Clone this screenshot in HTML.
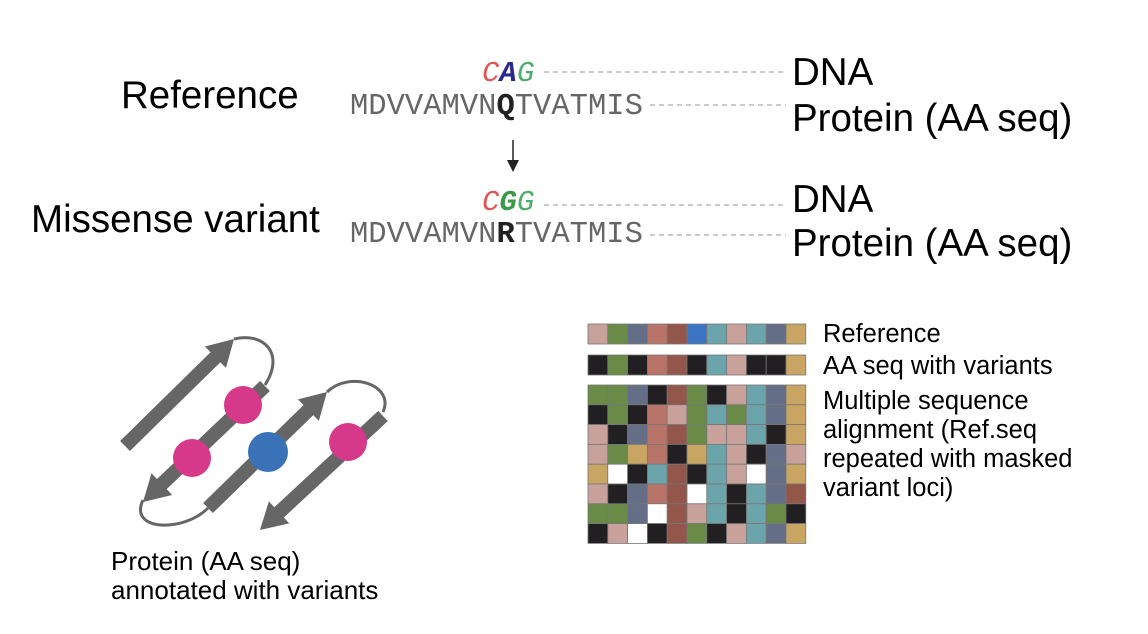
<!DOCTYPE html>
<html><head><meta charset="utf-8">
<style>
body{margin:0;background:#fff;}
svg{display:block;font-family:"Liberation Sans",Arial,sans-serif;}
</style></head>
<body>
<svg id="fig" width="1148" height="634" viewBox="0 0 1148 634">
<text x="121" y="108" font-size="38.5" fill="#000">Reference</text>
<text x="31" y="232" font-size="38.5" fill="#000">Missense variant</text>

<g font-family="Liberation Mono,monospace">
<text x="482" y="81" font-size="29" font-style="italic"><tspan fill="#e05555">C</tspan><tspan fill="#2a2a8a" font-weight="bold">A</tspan><tspan fill="#4cae6a">G</tspan></text>
<text x="350" y="114" font-size="30.5" fill="#666">MDVVAMVN<tspan font-weight="bold" fill="#222">Q</tspan>TVATMIS</text>
<text x="482" y="210" font-size="29" font-style="italic"><tspan fill="#e05555">C</tspan><tspan fill="#3a9a4a" font-weight="bold">G</tspan><tspan fill="#4cae6a">G</tspan></text>
<text x="350" y="242" font-size="30.5" fill="#666">MDVVAMVN<tspan font-weight="bold" fill="#222">R</tspan>TVATMIS</text>
</g>
<g stroke="#aaa" stroke-width="1.2" stroke-dasharray="5,4">
<line x1="544" y1="72" x2="786" y2="72"/>
<line x1="650" y1="105" x2="786" y2="105"/>
<line x1="544" y1="205" x2="786" y2="205"/>
<line x1="650" y1="235" x2="786" y2="235"/>
</g>
<g>
<line x1="513" y1="140" x2="513" y2="162" stroke="#222" stroke-width="1.5"/>
<polygon points="507,160 519,160 513,172" fill="#222"/>
</g>
<g font-size="38.5" fill="#000">
<text x="792" y="85">DNA</text>
<text x="792" y="131">Protein (AA seq)</text>
<text x="792" y="212">DNA</text>
<text x="792" y="256">Protein (AA seq)</text>
</g>

<g id="protein">
<g fill="none" stroke="#666" stroke-width="3">
<path d="M234,339 C262,332 286,352 265,385"/>
<path d="M143,500 C128,532 185,532 208,508"/>
<path d="M327,392 C350,370 395,385 383,412"/>
</g>
<g id="strands" fill="#666"></g>
<g>
<circle cx="243" cy="405" r="19" fill="#d6388a"/>
<circle cx="192" cy="458" r="19" fill="#d6388a"/>
<circle cx="268" cy="452" r="20" fill="#3a72b8"/>
<circle cx="348" cy="442" r="19" fill="#d6388a"/>
</g>
</g>
<text x="111" y="570" font-size="26">Protein (AA seq)</text>
<text x="111" y="599" font-size="26">annotated with variants</text>

<g id="grid"></g>
<g font-size="25.5" fill="#000">
<text x="823" y="342">Reference</text>
<text x="823" y="374">AA seq with variants</text>
<text x="823" y="409">Multiple sequence</text>
<text x="823" y="438">alignment (Ref.seq</text>
<text x="823" y="467">repeated with masked</text>
<text x="823" y="496">variant loci)</text>
</g>
</svg>
<script>
const strandStarts = [[125,446],[265,386],[208,508],[383,416]];
const strandEnds = [[234,339],[143,502],[327,392],[260,530]];
const refRow = "PGSRBUTPTSN";
const varRow = "KGKRBKTPKKN";
const msaRows = ["GGSKBGKPTSN","KGKRPGTGTSN","PKSRBGPPTKN","PGNRKNTPKSP","NWKTBKTPWSN","PKSRBWTKTSB","GGSWBPTKTGK","KPWKBGKPTSN"];
const colorMap = {P:"#c9a19b",G:"#6a8a48",S:"#646e86",R:"#b9746a",B:"#93564b",U:"#3a74c2",T:"#6ca4ab",K:"#211f21",N:"#c9a563",W:"#ffffff"};
const NS="http://www.w3.org/2000/svg";
const sg=document.getElementById('strands');
strandStarts.forEach((s,i)=>{
  const e=strandEnds[i];
  const dx=e[0]-s[0],dy=e[1]-s[1],L=Math.hypot(dx,dy),ux=dx/L,uy=dy/L,nx=-uy,ny=ux;
  const hw=7,hh=15,hl=26;
  const bx=e[0]-ux*hl,by=e[1]-uy*hl;
  const pts=[[s[0]+nx*hw,s[1]+ny*hw],[bx+nx*hw,by+ny*hw],[bx+nx*hh,by+ny*hh],[e[0],e[1]],[bx-nx*hh,by-ny*hh],[bx-nx*hw,by-ny*hw],[s[0]-nx*hw,s[1]-ny*hw]];
  const p=document.createElementNS(NS,'polygon');
  p.setAttribute('points',pts.map(q=>q.join(',')).join(' '));
  
  
  sg.appendChild(p);
});
const g=document.getElementById('grid');
const x0=588,cw=19.8;
function drawRow(str,y,h){
  for(let c=0;c<str.length;c++){
    const r=document.createElementNS(NS,'rect');
    r.setAttribute('x',x0+c*cw);r.setAttribute('y',y);
    r.setAttribute('width',cw);r.setAttribute('height',h);
    r.setAttribute('fill',colorMap[str[c]]);
    r.setAttribute('stroke','#777');r.setAttribute('stroke-width','0.8');
    
    
    g.appendChild(r);
  }
}
drawRow(refRow,324,20);
drawRow(varRow,355,20);
msaRows.forEach((row,i)=>drawRow(row,385+i*19.8,19.8));
</script>
</body></html>
